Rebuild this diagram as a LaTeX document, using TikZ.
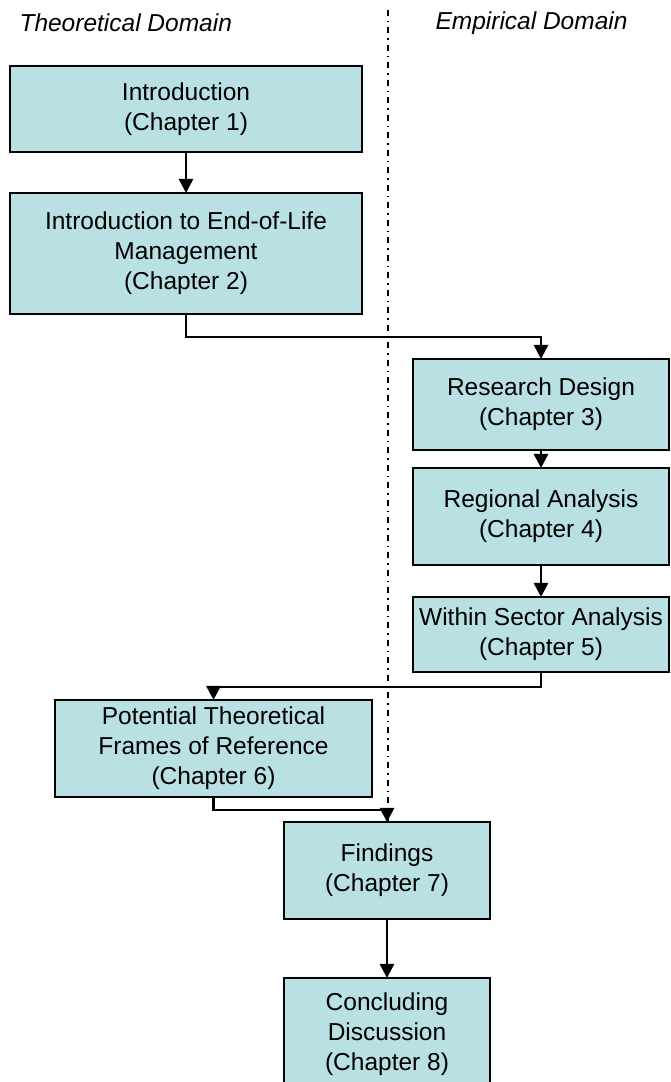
\documentclass[tikz,border=0pt]{standalone}
\usepackage{fontspec}
\setmainfont{Liberation Sans}
\usepackage{xcolor}
\usepackage{tikz}
\usetikzlibrary{positioning,arrows.meta}

\definecolor{chapfill}{RGB}{185,224,227}

\begin{document}
\begin{tikzpicture}[
  x=1pt, y=1pt,
  chap/.style={draw, line width=1.6pt, fill=chapfill, inner sep=0pt, outer sep=0pt,
               align=center, font=\fontsize{24.5}{30}\selectfont},
  dom/.style={anchor=west, font=\fontsize{24.5}{30}\selectfont\itshape},
  arr/.style={-{Triangle[length=14pt,width=14pt]}, line width=2.6pt},
  divider/.style={line width=1.8pt, dash pattern=on 6pt off 5pt on 1.5pt off 5pt},
]
  \useasboundingbox (0,0) rectangle (670,1082);

  \node[dom] (th) at (16,1059) {Theoretical Domain};
  \node[dom] (em) at (432,1059) {Empirical Domain};

  \node[chap, minimum width=352pt, minimum height=86pt] (intro) at (186,973) {Introduction\\(Chapter 1)};
  \node[chap, minimum width=352pt, minimum height=121pt, below=41pt of intro] (eol) {Introduction to End-of-Life\\Management\\(Chapter 2)};
  \node[chap, minimum width=256pt, minimum height=91pt] (design) at (541,677.5) {Research Design\\(Chapter 3)};
  \node[chap, minimum width=256pt, minimum height=97pt, below=18pt of design] (region) {Regional Analysis\\(Chapter 4)};
  \node[chap, minimum width=256pt, minimum height=75pt, below=32pt of region] (sector) {Within Sector Analysis\\(Chapter 5)};
  \node[chap, minimum width=317pt, minimum height=97pt] (frames) at (213.5,333.5) {Potential Theoretical\\Frames of Reference\\(Chapter 6)};
  \node[chap, minimum width=206pt, minimum height=97pt] (find) at (387,211.5) {Findings\\(Chapter 7)};
  \node[chap, minimum width=206pt, minimum height=112pt, below=59pt of find] (concl) {Concluding\\Discussion\\(Chapter 8)};

  \coordinate (top) at (388,1072);
  \draw[divider] (top) -- (top |- find.north);

  \draw[arr] (intro) -- (eol);
  \draw[arr] (eol.south) -- ++(0,-23) -| (design.north);
  \draw[arr] (design) -- (region);
  \draw[arr] (region) -- (sector);
  \draw[arr] (sector.south) -- ++(0,-15) -| (frames.north);
  \draw[arr] (frames.south) -- ++(0,-13) -| (find.north);
  \draw[arr] (find) -- (concl);
\end{tikzpicture}
\end{document}
